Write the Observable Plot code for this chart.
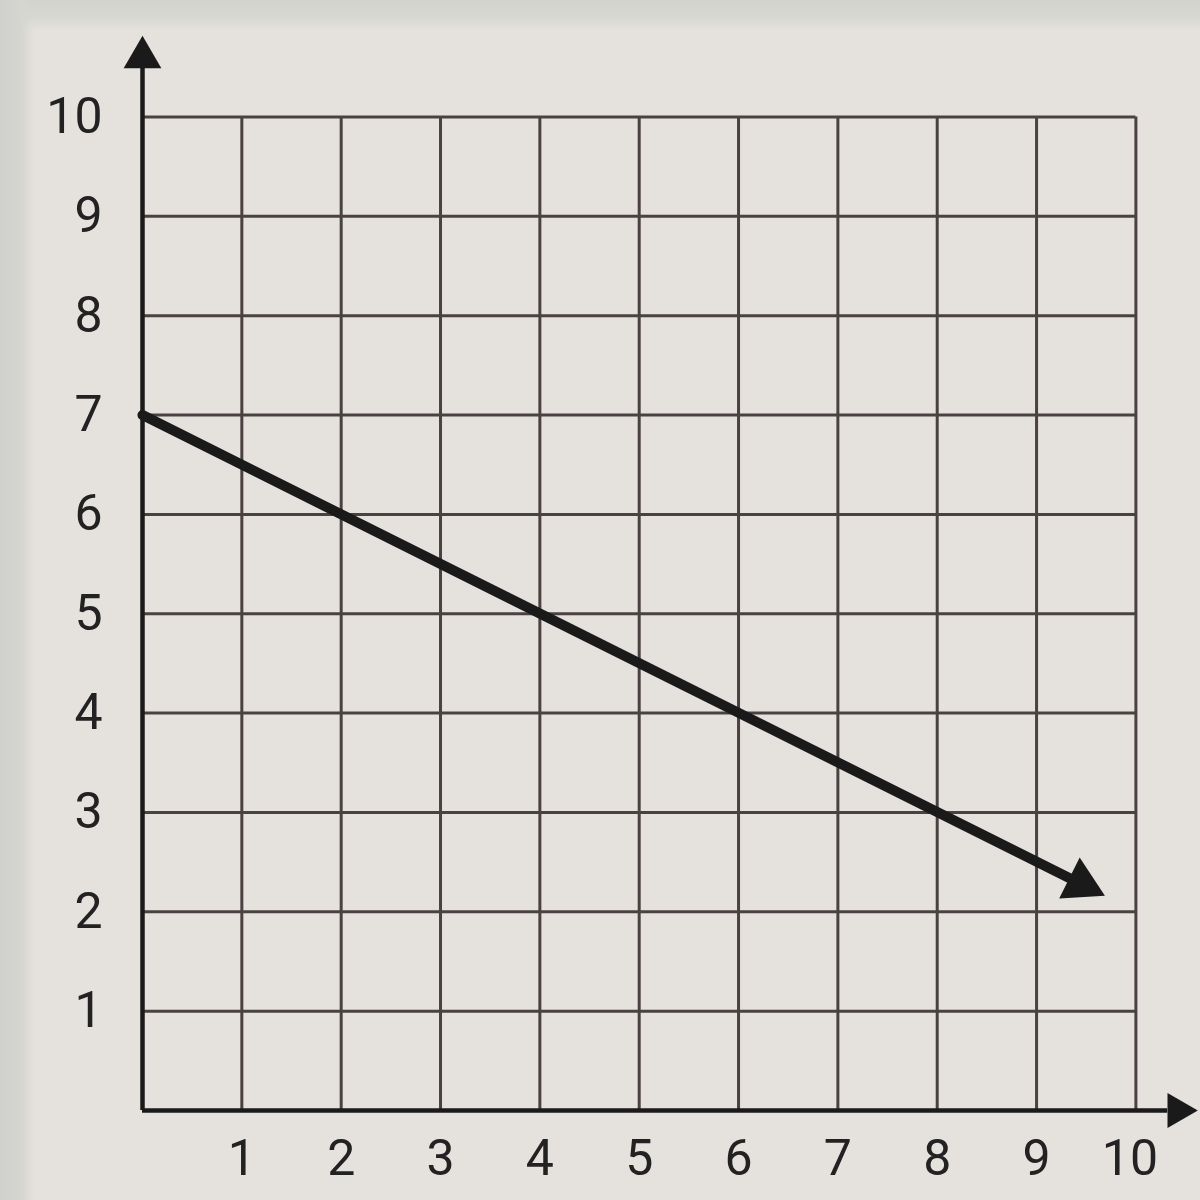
<!DOCTYPE html>
<html>
<head>
<meta charset="utf-8">
<script src="https://cdn.jsdelivr.net/npm/d3@7"></script>
<script src="https://cdn.jsdelivr.net/npm/@observablehq/plot@0.6"></script>
<style>
  html, body { margin: 0; padding: 0; width: 1200px; height: 1200px; overflow: hidden;
    background: #e4e0db; }
  #bg { position: absolute; left: 0; top: 0; width: 1200px; height: 1200px;
    background:
      linear-gradient(to right, #cfd1cc 0px, #d6d6d1 22px, rgba(228,224,219,0) 34px),
      linear-gradient(to bottom, #d3d3ce 0px, #d8d8d3 18px, rgba(228,224,219,0) 30px),
      #e5e1dc; }
  #chart { position: absolute; left: 0; top: 0; }
  svg { background: transparent !important; }
</style>
</head>
<body>
<div id="bg"></div>
<div id="chart"></div>
<script>
// Data
const xTicks = [1, 2, 3, 4, 5, 6, 7, 8, 9, 10];
const yTicks = [1, 2, 3, 4, 5, 6, 7, 8, 9, 10];
const lineX = [0, 9.45];
const lineY = [7, 2.28];
const xAxisEnd = 10.42;
const yAxisEnd = 10.6;

const lineData = lineX.map((x, i) => ({x, y: lineY[i]}));
const last = lineData[lineData.length - 1];
const angle = 90 + Math.atan2(lineY[0] - lineY[1], lineX[1] - lineX[0]) * 180 / Math.PI;

const gridColor = "#4a4242";
const axisColor = "#1b1a1a";
const font = "Roboto, 'Noto Sans', sans-serif";

const chart = Plot.plot({
  width: 1200,
  height: 1200,
  marginLeft: 142,
  marginRight: 5,
  marginTop: 42,
  marginBottom: 90,
  x: {domain: [0, 10.6], axis: null},
  y: {domain: [0, 10.75], axis: null},
  style: {background: "transparent", fontFamily: font},
  marks: [
    Plot.ruleX(xTicks, {x: d => d, y1: 0, y2: 10, stroke: gridColor, strokeWidth: 3}),
    Plot.ruleY(yTicks, {y: d => d, x1: 0, x2: 10, stroke: gridColor, strokeWidth: 3}),
    Plot.ruleX([0], {y1: 0, y2: yAxisEnd - 0.1, stroke: axisColor, strokeWidth: 4.5}),
    Plot.ruleY([0], {x1: 0, x2: xAxisEnd - 0.1, stroke: axisColor, strokeWidth: 4.5}),
    Plot.dot([{x: 0, y: yAxisEnd}], {x: "x", y: "y", symbol: "triangle", r: 14, fill: axisColor, stroke: "none"}),
    Plot.dot([{x: xAxisEnd, y: 0}], {x: "x", y: "y", symbol: "triangle", r: 13, rotate: 90, fill: axisColor, stroke: "none"}),
    Plot.line(lineData, {x: "x", y: "y", stroke: axisColor, strokeWidth: 10}),
    Plot.dot([last], {x: "x", y: "y", symbol: "triangle", r: 17, rotate: angle, fill: axisColor, stroke: "none"}),
    Plot.text(yTicks, {x: 0, y: d => d, text: d => String(d), dx: -40, textAnchor: "end", fontSize: 50, fill: "#222", fontFamily: font}),
    Plot.text(xTicks.filter(d => d < 10), {x: d => d, y: 0, text: d => String(d), dy: 48, fontSize: 50, fill: "#222", fontFamily: font}),
    Plot.text(xTicks.filter(d => d >= 10), {x: d => d, y: 0, text: d => String(d), dy: 48, dx: -6, fontSize: 50, fill: "#222", fontFamily: font})
  ]
});
document.getElementById("chart").appendChild(chart);
</script>
</body>
</html>
